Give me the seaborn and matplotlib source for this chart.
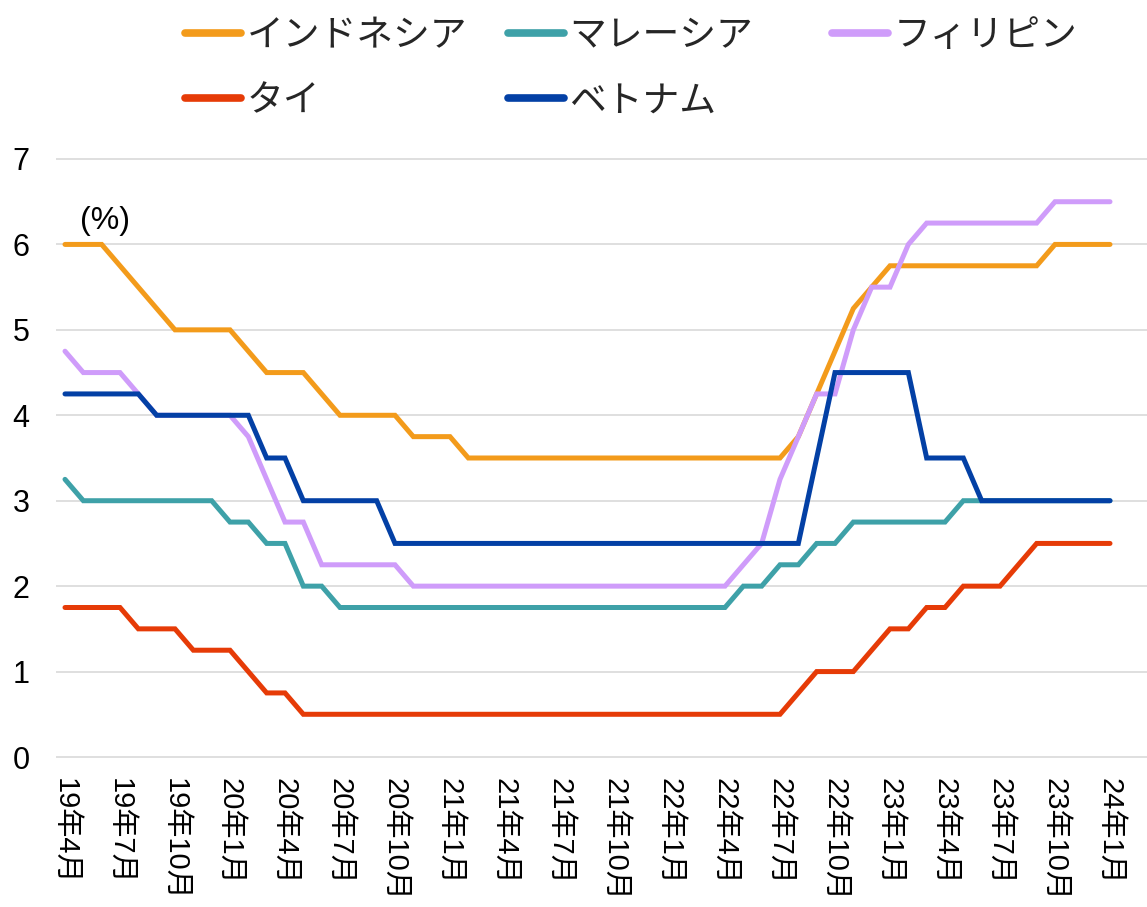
import numpy as np
import pandas as pd
import matplotlib
matplotlib.use("Agg")
import matplotlib.pyplot as plt
import seaborn as sns

# ---------------- data ----------------
months = list(range(58))  # 2019-04 .. 2024-01
tick_pos = list(range(0, 58, 3))
tick_labels = ["19年4月", "19年7月", "19年10月", "20年1月", "20年4月", "20年7月",
               "20年10月", "21年1月", "21年4月", "21年7月", "21年10月", "22年1月",
               "22年4月", "22年7月", "22年10月", "23年1月", "23年4月", "23年7月",
               "23年10月", "24年1月"]

indonesia = ([6.0, 6.0, 6.0, 5.75, 5.5, 5.25, 5.0, 5.0, 5.0, 5.0, 4.75, 4.5, 4.5, 4.5,
              4.25, 4.0, 4.0, 4.0, 4.0, 3.75, 3.75, 3.75] + [3.5] * 18 +
             [3.75, 4.25, 4.75, 5.25, 5.5] + [5.75] * 9 + [6.0] * 4)
malaysia = ([3.25] + [3.0] * 8 + [2.75, 2.75, 2.5, 2.5, 2.0, 2.0] + [1.75] * 22 +
            [2.0, 2.0, 2.25, 2.25, 2.5, 2.5] + [2.75] * 6 + [3.0] * 9)
philippines = ([4.75, 4.5, 4.5, 4.5, 4.25, 4.0, 4.0, 4.0, 4.0, 4.0, 3.75, 3.25, 2.75, 2.75]
               + [2.25] * 5 + [2.0] * 18 +
               [2.25, 2.5, 3.25, 3.75, 4.25, 4.25, 5.0, 5.5, 5.5, 6.0] + [6.25] * 7 + [6.5] * 4)
thailand = ([1.75] * 4 + [1.5] * 3 + [1.25] * 3 + [1.0, 0.75, 0.75] + [0.5] * 27 +
            [0.75, 1.0, 1.0, 1.0, 1.25, 1.5, 1.5, 1.75, 1.75, 2.0, 2.0, 2.0, 2.25] + [2.5] * 5)
vietnam = ([4.25] * 5 + [4.0] * 6 + [3.5, 3.5] + [3.0] * 5 + [2.5] * 23 +
           [3.5] + [4.5] * 5 + [3.5] * 3 + [3.0] * 8)

series_names = ["インドネシア", "マレーシア", "フィリピン", "タイ", "ベトナム"]
series_values = [indonesia, malaysia, philippines, thailand, vietnam]
colors = ["#F39B1B", "#3EA1A8", "#CF9CFA", "#E63B07", "#0340A5"]

df = pd.concat([pd.DataFrame({"month": months, "rate": v, "country": n})
                for n, v in zip(series_names, series_values)], ignore_index=True)

# ---------------- style ----------------
sns.set_theme(style="white")
plt.rcParams["font.family"] = ["Liberation Sans", "Noto Sans CJK JP", "DejaVu Sans"]

W, H = 1147, 907
fig = plt.figure(figsize=(W / 100, H / 100), dpi=100)

ypad = 0.05
ppu = (757 - 159) / 7.0
ax_top = 159 - ypad * ppu
ax_bot = 757 + ypad * ppu
ax = fig.add_axes([56 / W, 1 - ax_bot / H, (W - 56) / W, (ax_bot - ax_top) / H])

sns.lineplot(data=df, x="month", y="rate", hue="country", hue_order=series_names,
             palette=dict(zip(series_names, colors)), linewidth=3.6, legend=False,
             ax=ax, sort=False)
for ln in ax.lines:
    ln.set_solid_capstyle("round")
    ln.set_solid_joinstyle("miter")

ppm = (1110 - 65) / 57.0
ax.set_xlim(-(65 - 56) / ppm, 57 + (W - 1110) / ppm)
ax.set_ylim(-ypad, 7 + ypad)

ax.set_yticks(range(0, 8))
ax.set_yticklabels([str(i) for i in range(8)], fontsize=22)
ax.set_xticks(tick_pos)
ax.set_xticklabels(tick_labels, fontsize=21)
plt.setp(ax.get_xticklabels(), rotation=270, ha="center", va="top")
ax.tick_params(axis="y", length=0, pad=19, colors="black")
ax.tick_params(axis="x", length=0, pad=12, colors="black")

ax.grid(axis="y", color="#D9D9D9", linewidth=1.2)
ax.grid(axis="x", visible=False)
for s in ax.spines.values():
    s.set_visible(False)
ax.set_xlabel("")
ax.set_ylabel("")

ax.text(0.8, 6.27, "(%)", fontsize=23, ha="left", va="center", color="black")

# ---------------- legend (three columns, equal widths) ----------------
handles = {n: l for n, l in zip(series_names, ax.lines)}
cols = [(185, ["インドネシア", "タイ"]), (508, ["マレーシア", "ベトナム"]), (832, ["フィリピン"])]
for x0, names in cols:
    hs = []
    for n in names:
        h = matplotlib.lines.Line2D([], [], color=handles[n].get_color(), linewidth=5.5,
                                    solid_capstyle="round")
        hs.append(h)
    leg = fig.legend(hs, names, loc="upper left", bbox_to_anchor=(x0 / W, 1 - 19 / H),
                     frameon=False, fontsize=26.5, handlelength=1.52, handletextpad=0.15,
                     borderpad=0, borderaxespad=0, labelspacing=0.82)

fig.savefig("out.png", dpi=100)
